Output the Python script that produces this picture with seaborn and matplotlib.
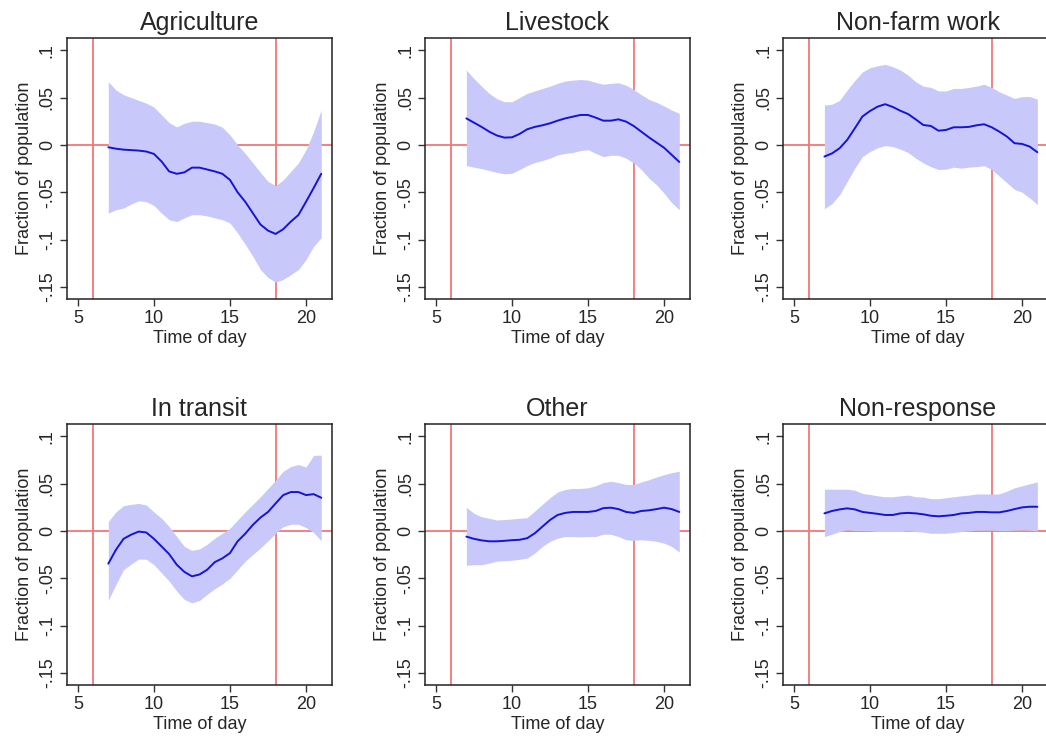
import numpy as np
import pandas as pd
import matplotlib
matplotlib.use("Agg")
import matplotlib.pyplot as plt
import seaborn as sns

# half-hour grid from 7:00 to 21:00
hours = np.arange(7, 21.01, 0.5)

titles = ["Agriculture", "Livestock", "Non-farm work", "In transit", "Other", "Non-response"]

agri_mean = [-0.0025, -0.004, -0.005, -0.0055, -0.006, -0.007, -0.0095, -0.0175, -0.028, -0.0305,
             -0.029, -0.024, -0.024, -0.026, -0.028, -0.0305, -0.037, -0.05, -0.06, -0.072,
             -0.084, -0.0905, -0.094, -0.089, -0.081, -0.074, -0.06, -0.0455, -0.0305]
agri_hi = [0.0667, 0.058, 0.053, 0.05, 0.047, 0.044, 0.04, 0.0316, 0.0235, 0.019,
           0.0228, 0.025, 0.025, 0.0235, 0.022, 0.0186, 0.0105, 0.0, -0.009, -0.019,
           -0.029, -0.0386, -0.043, -0.037, -0.028, -0.019, -0.005, 0.014, 0.037]
agri_lo = [-0.072, -0.0685, -0.0667, -0.0625, -0.059, -0.06, -0.064, -0.072, -0.079, -0.081,
           -0.077, -0.0737, -0.0737, -0.075, -0.077, -0.079, -0.0825, -0.093, -0.105, -0.1175,
           -0.1316, -0.14, -0.145, -0.142, -0.137, -0.1316, -0.121, -0.107, -0.098]

live_mean = [0.028, 0.0235, 0.019, 0.014, 0.01, 0.0077, 0.008, 0.0116, 0.0165, 0.019,
             0.0207, 0.0228, 0.0256, 0.028, 0.0298, 0.0316, 0.0316, 0.0288, 0.0256, 0.0256,
             0.027, 0.0246, 0.02, 0.014, 0.008, 0.0025, -0.003, -0.0105, -0.018]
live_hi = [0.079, 0.07, 0.062, 0.0544, 0.0488, 0.0456, 0.0456, 0.05, 0.0544, 0.057,
           0.0596, 0.062, 0.065, 0.0674, 0.0684, 0.069, 0.0684, 0.066, 0.064, 0.065,
           0.0656, 0.063, 0.0586, 0.053, 0.048, 0.045, 0.041, 0.0368, 0.0333]
live_lo = [-0.0218, -0.0235, -0.025, -0.027, -0.029, -0.0305, -0.03, -0.026, -0.0218, -0.0186,
           -0.0165, -0.014, -0.0105, -0.009, -0.008, -0.006, -0.005, -0.009, -0.0123, -0.011,
           -0.011, -0.014, -0.019, -0.026, -0.035, -0.042, -0.051, -0.061, -0.0685]

nonfarm_mean = [-0.0123, -0.009, -0.0035, 0.0053, 0.0175, 0.03, 0.0358, 0.0404, 0.043, 0.04,
                0.036, 0.0326, 0.027, 0.021, 0.02, 0.015, 0.0158, 0.0186, 0.0186, 0.019,
                0.0207, 0.0218, 0.0186, 0.014, 0.0088, 0.0018, 0.001, -0.0018, -0.0077]
nonfarm_hi = [0.042, 0.043, 0.047, 0.058, 0.068, 0.077, 0.0814, 0.0835, 0.085, 0.0825,
              0.079, 0.0737, 0.0667, 0.062, 0.0607, 0.057, 0.057, 0.0596, 0.0596, 0.0607,
              0.062, 0.064, 0.0607, 0.056, 0.0526, 0.049, 0.051, 0.051, 0.0484]
nonfarm_lo = [-0.0674, -0.062, -0.0526, -0.0386, -0.0246, -0.0123, -0.007, -0.003, -0.0007, -0.0018,
              -0.0046, -0.008, -0.014, -0.019, -0.023, -0.026, -0.0256, -0.0235, -0.0246, -0.0235,
              -0.023, -0.022, -0.026, -0.033, -0.04, -0.047, -0.05, -0.056, -0.063]

transit_mean = [-0.0346, -0.02, -0.0084, -0.004, -0.0007, -0.0017, -0.0084, -0.0164, -0.0245, -0.0357,
                -0.0433, -0.048, -0.046, -0.041, -0.033, -0.029, -0.0234, -0.011, -0.003, 0.0063,
                0.014, 0.02, 0.029, 0.0378, 0.041, 0.041, 0.0378, 0.0388, 0.035]
transit_hi = [0.0098, 0.02, 0.0266, 0.028, 0.029, 0.0273, 0.02, 0.0133, 0.0045, -0.006,
              -0.0164, -0.0206, -0.019, -0.014, -0.0077, -0.0024, 0.0028, 0.0115, 0.02, 0.028,
              0.036, 0.0448, 0.0535, 0.063, 0.068, 0.07, 0.0675, 0.0797, 0.08]
transit_lo = [-0.0734, -0.0566, -0.041, -0.035, -0.0297, -0.03, -0.0357, -0.0444, -0.053, -0.0636,
              -0.0724, -0.076, -0.0734, -0.067, -0.061, -0.056, -0.05, -0.041, -0.032, -0.025,
              -0.018, -0.0105, -0.0025, 0.0045, 0.007, 0.007, 0.0035, -0.0017, -0.0105]

other_mean = [-0.006, -0.0084, -0.01, -0.011, -0.011, -0.0105, -0.0098, -0.0094, -0.0077, -0.0025,
              0.0045, 0.0115, 0.0168, 0.019, 0.02, 0.02, 0.02, 0.021, 0.024, 0.0245,
              0.023, 0.02, 0.019, 0.021, 0.0217, 0.023, 0.0245, 0.023, 0.02]
other_hi = [0.025, 0.0185, 0.015, 0.0133, 0.0115, 0.012, 0.0126, 0.0133, 0.014, 0.021,
            0.028, 0.035, 0.041, 0.0437, 0.0448, 0.0448, 0.0455, 0.0476, 0.051, 0.0524,
            0.051, 0.049, 0.049, 0.0517, 0.054, 0.057, 0.0594, 0.0615, 0.063]
other_lo = [-0.0364, -0.0357, -0.0357, -0.034, -0.032, -0.0315, -0.031, -0.03, -0.0287, -0.0234,
            -0.0164, -0.011, -0.0077, -0.006, -0.006, -0.0063, -0.006, -0.006, -0.0035, -0.0035,
            -0.006, -0.0094, -0.01, -0.0094, -0.01, -0.011, -0.013, -0.0164, -0.0224]

nonresp_mean = [0.0185, 0.021, 0.0227, 0.0238, 0.0227, 0.02, 0.019, 0.018, 0.0168, 0.0168,
                0.0185, 0.019, 0.0185, 0.0175, 0.016, 0.0154, 0.016, 0.0168, 0.0185, 0.019,
                0.02, 0.02, 0.0196, 0.0196, 0.021, 0.023, 0.0248, 0.0255, 0.0255]
nonresp_hi = [0.044, 0.044, 0.044, 0.044, 0.043, 0.0395, 0.0385, 0.037, 0.036, 0.036,
              0.037, 0.0378, 0.036, 0.0357, 0.034, 0.034, 0.035, 0.036, 0.037, 0.0378,
              0.039, 0.039, 0.0388, 0.039, 0.042, 0.0455, 0.0476, 0.0497, 0.0517]
nonresp_lo = [-0.006, -0.0035, -0.0007, 0.001, 0.0003, 0.0003, 0.0, -0.0007, -0.0007, -0.0007,
              -0.0007, 0.0, -0.0007, -0.0014, -0.0025, -0.0025, -0.0025, -0.0017, -0.0007, 0.0,
              0.0007, 0.0007, 0.0007, 0.0003, 0.0003, 0.0007, 0.001, 0.0007, 0.0]

means = [agri_mean, live_mean, nonfarm_mean, transit_mean, other_mean, nonresp_mean]
highs = [agri_hi, live_hi, nonfarm_hi, transit_hi, other_hi, nonresp_hi]
lows = [agri_lo, live_lo, nonfarm_lo, transit_lo, other_lo, nonresp_lo]

x_ticks = [5, 10, 15, 20]
y_ticks = [0.1, 0.05, 0, -0.05, -0.1, -0.15]
y_tick_labels = [".1", ".05", "0", "-.05", "-.1", "-.15"]

sns.set_style("ticks")
plt.rcParams["font.family"] = ["Liberation Sans", "DejaVu Sans"]

BAND = "#c8c8fa"
LINE = "#1414d8"
REF = "#f07878"

fig = plt.figure(figsize=(10.46, 7.41), dpi=100)
lefts = [0.064, 0.4063, 0.7486]
bottoms = [0.5965, 0.0756]
w, h = 0.2533, 0.352

for i, title in enumerate(titles):
    # the right column runs past the edge of the picture in the original
    width = w if i % 3 < 2 else 0.258
    ax = fig.add_axes([lefts[i % 3], bottoms[i // 3], width, h])
    df = pd.DataFrame({"hour": hours, "mean": means[i], "lo": lows[i], "hi": highs[i]})

    # reference lines sit under the confidence band
    ax.axvline(6, color=REF, lw=1.3, zorder=1)
    ax.axvline(18, color=REF, lw=1.3, zorder=1)
    ax.axhline(0, color=REF, lw=1.3, zorder=1)
    ax.fill_between(df["hour"], df["lo"], df["hi"], color=BAND, lw=0, zorder=2)
    sns.lineplot(data=df, x="hour", y="mean", color=LINE, lw=1.4, ax=ax, zorder=3)

    xmax = 21.7 if i % 3 < 2 else 21.7 + (0.258 - w) * 1046 / 15.2
    ax.set_xlim(4.28, xmax)
    ax.set_ylim(-0.1627, 0.1127)
    ax.set_xticks(x_ticks)
    ax.set_yticks(y_ticks)
    ax.set_yticklabels(y_tick_labels, rotation=90, va="center")
    ax.tick_params(labelsize=13, length=5, width=1, color="#333333", pad=3)
    for s in ax.spines.values():
        s.set_color("#222222")
        s.set_linewidth(1.1)
    ax.set_xlabel("Time of day", fontsize=13, labelpad=2)
    ax.set_ylabel("Fraction of population", fontsize=13, labelpad=4)
    ax.set_title(title, fontsize=18, pad=6)

plt.savefig("out.png", dpi=100)
plt.close()
